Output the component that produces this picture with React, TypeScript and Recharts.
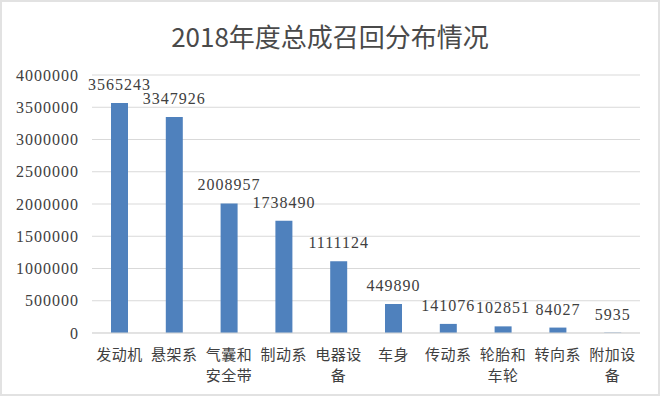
import { BarChart, Bar, XAxis, YAxis, CartesianGrid, LabelList } from "recharts";

const CATEGORIES = ["发动机", "悬架系", "气囊和安全带", "制动系", "电器设备", "车身", "传动系", "轮胎和车轮", "转向系", "附加设备"];
const RECALLS = [3565243, 3347926, 2008957, 1738490, 1111124, 449890, 141076, 102851, 84027, 5935];
const Y_TICKS = [0, 500000, 1000000, 1500000, 2000000, 2500000, 3000000, 3500000, 4000000];

const DATA = CATEGORIES.map((name, i) => ({ name, value: RECALLS[i] }));

const NUM_FONT = '"Liberation Serif", "Times New Roman", serif';
const CJK_FONT = '"Noto Sans CJK SC", sans-serif';

// Excel-style wrapping: at most 3 characters per line
function CategoryTick(props: any) {
  const { x, payload } = props;
  const text: string = payload.value;
  const lines: string[] = [];
  for (let i = 0; i < text.length; i += 3) lines.push(text.slice(i, i + 3));
  return (
    <g>
      {lines.map((l, i) => (
        <text
          key={i}
          x={x}
          y={360 + i * 21}
          textAnchor="middle"
          fill="#404040"
          fontSize={15}
          fontFamily={CJK_FONT}
          letterSpacing={0.5}
        >
          {l}
        </text>
      ))}
    </g>
  );
}

export default function App() {
  return (
    <div
      style={{
        position: "absolute",
        left: 0,
        top: 0,
        width: 660,
        height: 396,
        background: "#fff",
        boxSizing: "border-box",
        border: "2px solid #e2e2e2",
      }}
    >
      <div
        style={{
          position: "absolute",
          left: 0,
          top: 14,
          width: 656,
          textAlign: "center",
          fontFamily: CJK_FONT,
          fontSize: 26,
          color: "#4a4a4a",
          lineHeight: "40px",
        }}
      >
        2018年度总成召回分布情况
      </div>
      <div style={{ position: "absolute", left: -2, top: -2 }}>
        <BarChart width={660} height={396} data={DATA} margin={{ top: 75, right: 20, bottom: 0, left: 0 }}>
          <CartesianGrid vertical={false} stroke="#d9d9d9" />
          <XAxis
            dataKey="name"
            height={63}
            interval={0}
            tickLine={false}
            axisLine={{ stroke: "#d9d9d9" }}
            tick={<CategoryTick />}
          />
          <YAxis
            width={92}
            domain={[0, 4000000]}
            ticks={Y_TICKS}
            interval={0}
            axisLine={false}
            tickLine={false}
            tickSize={6}
            tickMargin={7}
            tick={{ fill: "#404040", fontSize: 16, fontFamily: NUM_FONT, letterSpacing: 1 }}
          />
          <Bar dataKey="value" fill="#4f81bd" barSize={17} isAnimationActive={false}>
            <LabelList
              dataKey="value"
              position="top"
              offset={13}
              fill="#404040"
              fontSize={16}
              fontFamily={NUM_FONT}
              letterSpacing={1}
            />
          </Bar>
        </BarChart>
      </div>
    </div>
  );
}
